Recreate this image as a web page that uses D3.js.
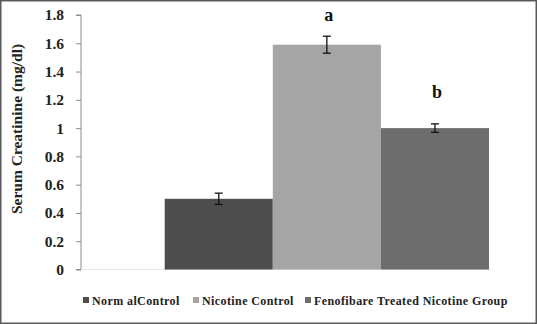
<!DOCTYPE html>
<html>
<head>
<meta charset="utf-8">
<script src="https://cdn.jsdelivr.net/npm/d3@7"></script>
<style>
  html, body { margin: 0; padding: 0; background: #fff; }
  svg { display: block; }
  svg text { font-family: "Liberation Serif", "Times New Roman", "DejaVu Serif", serif !important; }
</style>
</head>
<body>
<svg id="chart" width="538" height="324"></svg>
<script>
const categories = ["Norm alControl", "Nicotine Control", "Fenofibare Treated Nicotine Group"];
const values = [0.5, 1.59, 1.0];
const errors = [0.04, 0.06, 0.03];
const sigLabels = ["", "a", "b"];
const sigLevels = [0, 1.755, 1.215];
const yTicks = [0, 0.2, 0.4, 0.6, 0.8, 1, 1.2, 1.4, 1.6, 1.8];
const colors = ["#4d4d4d", "#a5a5a5", "#6d6d6d"];

const svg = d3.select("#chart");
const W = 538, H = 324;

// outer border
svg.append("rect").attr("x", 0.75).attr("y", 0.75).attr("width", W - 2.5).attr("height", H - 1.5)
  .attr("fill", "none").attr("stroke", "#5a5a5a").attr("stroke-width", 1.5);

const plot = { left: 81, right: 489, top: 15, bottom: 269.5 };

const x = d3.scaleBand().domain(categories).range([164.7, plot.right]).paddingInner(0).paddingOuter(0);
const y = d3.scaleLinear().domain([0, 1.8]).range([plot.bottom, plot.top]);

// y axis
const yAxis = d3.axisLeft(y).tickValues(yTicks).tickSize(5).tickPadding(12)
  .tickFormat(d => d3.format("")(+d.toFixed(1)));
const gy = svg.append("g").attr("transform", `translate(${plot.left},0)`).call(yAxis)
  .attr("font-family", null);
gy.select(".domain").attr("stroke", "#8c8c8c").attr("d", `M-5,${plot.top}H0V${plot.bottom}H-5`);
gy.selectAll(".tick line").attr("stroke", "#8c8c8c");
gy.selectAll(".tick text").attr("fill", "#222").style("font-size", "15.5px").style("font-weight", "bold");

// x baseline (faint)
svg.append("line").attr("x1", plot.left).attr("x2", plot.right + 2)
  .attr("y1", plot.bottom).attr("y2", plot.bottom).attr("stroke", "#e6e6e6");

// bars
svg.selectAll("rect.bar").data(categories).enter().append("rect").attr("class", "bar")
  .attr("x", d => x(d)).attr("width", x.bandwidth())
  .attr("y", (d, i) => y(values[i])).attr("height", (d, i) => y(0) - y(values[i]))
  .attr("fill", (d, i) => colors[i]);

// error bars
const eb = svg.selectAll("g.err").data(categories).enter().append("g").attr("class", "err");
eb.append("line")
  .attr("x1", d => x(d) + x.bandwidth() / 2).attr("x2", d => x(d) + x.bandwidth() / 2)
  .attr("y1", (d, i) => y(values[i] + errors[i])).attr("y2", (d, i) => y(values[i] - errors[i]))
  .attr("stroke", "#111").attr("stroke-width", 1.3);
[1, -1].forEach(s => {
  eb.append("line")
    .attr("x1", d => x(d) + x.bandwidth() / 2 - 4).attr("x2", d => x(d) + x.bandwidth() / 2 + 4)
    .attr("y1", (d, i) => y(values[i] + s * errors[i])).attr("y2", (d, i) => y(values[i] + s * errors[i]))
    .attr("stroke", "#111").attr("stroke-width", 1.3);
});

// significance letters
svg.selectAll("text.sig").data(categories).enter().append("text").attr("class", "sig")
  .attr("x", d => x(d) + x.bandwidth() / 2 + 2)
  .attr("y", (d, i) => y(sigLevels[i]))
  .attr("text-anchor", "middle").style("font-size", "18px").style("font-weight", "bold").attr("fill", "#111")
  .text((d, i) => sigLabels[i]);

// y title
svg.append("text")
  .attr("transform", `translate(22,129) rotate(-90)`)
  .attr("text-anchor", "middle").style("font-size", "15.5px").style("font-weight", "bold").attr("fill", "#222")
  .text("Serum Creatinine (mg/dl)");

// legend
const legendX = [83, 193, 305];
const lg = svg.selectAll("g.leg").data(categories).enter().append("g").attr("class", "leg")
  .attr("transform", (d, i) => `translate(${legendX[i]},297)`);
lg.append("rect").attr("width", 6).attr("height", 6).attr("fill", (d, i) => colors[i]);
lg.append("text").attr("x", 9).attr("y", 7.5).style("font-size", "12px").style("font-weight", "bold")
  .style("letter-spacing", "0.4px").attr("fill", "#222").text(d => d);
</script>
</body>
</html>
